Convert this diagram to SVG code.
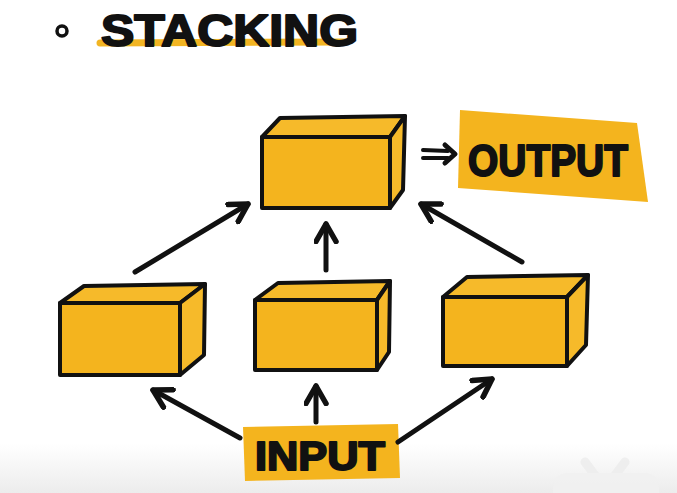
<svg xmlns="http://www.w3.org/2000/svg" width="677" height="493" viewBox="0 0 677 493">
<defs>
<style>
.face{fill:#F4B41E;stroke:#111;stroke-width:4;stroke-linejoin:round}
.side{fill:#F6BA2A;stroke:#111;stroke-width:4;stroke-linejoin:round}
.arr{stroke:#111;stroke-width:5;stroke-linecap:round;fill:none}
.lbl{font-family:"Liberation Sans","DejaVu Sans",sans-serif;font-weight:bold;fill:#111;stroke:#111;stroke-width:2;stroke-linejoin:round}
</style>
<marker id="ah" viewBox="0 0 10 10" refX="8" refY="5" markerWidth="5" markerHeight="5" orient="auto" markerUnits="strokeWidth">
<path d="M1,1 L8,5 L1,9" fill="none" stroke="#111" stroke-width="2.2" stroke-linecap="round" stroke-linejoin="round"/>
</marker>
<linearGradient id="bg" x1="0" y1="0" x2="0" y2="1">
<stop offset="0.9" stop-color="#ffffff"/>
<stop offset="1" stop-color="#ececec"/>
</linearGradient>
</defs>
<rect width="677" height="493" fill="url(#bg)"/>

<g id="title">
<circle cx="62" cy="31" r="5" fill="none" stroke="#111" stroke-width="3.5"/>
<path d="M100,43 L345,42" stroke="#F2B523" stroke-width="7" stroke-linecap="round" fill="none"/>
<text x="101" y="46" class="lbl" font-size="44" textLength="257" lengthAdjust="spacingAndGlyphs">STACKING</text>
</g>

<g id="top-model">
<polygon class="face" points="262,137 390,137 390,208 262,208"/>
<polygon class="side" points="262,137 280,118 405,116 390,137"/>
<polygon class="side" points="390,137 405,116 403,190 390,208"/>
</g>

<g id="output">
<polygon points="460,110 637,123 648,202 458,188" fill="#F4B41E"/>
<text x="468" y="176" class="lbl" font-size="44" textLength="160" lengthAdjust="spacingAndGlyphs">OUTPUT</text>
</g>

<g id="model-left">
<polygon class="face" points="60,303 180,303 180,375 60,375"/>
<polygon class="side" points="60,303 84,286 205,284 180,303"/>
<polygon class="side" points="180,303 205,284 204,355 180,375"/>
</g>

<g id="model-middle">
<polygon class="face" points="255,300 377,300 377,370 255,370"/>
<polygon class="side" points="255,300 278,283 390,281 377,300"/>
<polygon class="side" points="377,300 390,281 389,352 377,370"/>
</g>

<g id="model-right">
<polygon class="face" points="443,297 567,297 567,366 443,366"/>
<polygon class="side" points="443,297 467,277 588,275 567,297"/>
<polygon class="side" points="567,297 588,275 586,345 567,366"/>
</g>

<g id="input">
<polygon points="243,427 398,424 400,478 245,481" fill="#F4B41E"/>
<text x="255" y="470" class="lbl" font-size="40" textLength="130" lengthAdjust="spacingAndGlyphs">INPUT</text>
</g>

<g id="connectors">
<line class="arr" x1="135" y1="272" x2="248" y2="204" marker-end="url(#ah)"/>
<line class="arr" x1="326" y1="270" x2="326" y2="224" marker-end="url(#ah)"/>
<line class="arr" x1="522" y1="262" x2="421" y2="204" marker-end="url(#ah)"/>
<line class="arr" x1="240" y1="438" x2="153" y2="390" marker-end="url(#ah)"/>
<line class="arr" x1="316" y1="422" x2="316" y2="386" marker-end="url(#ah)"/>
<line class="arr" x1="398" y1="442" x2="492" y2="379" marker-end="url(#ah)"/>
<path d="M423,150 L448,151 M423,158 L448,158" stroke="#111" stroke-width="4" stroke-linecap="round" fill="none"/>
<path d="M445,145 L455,154 L445,163" stroke="#111" stroke-width="5" stroke-linecap="round" stroke-linejoin="round" fill="none"/>
</g>

<g id="watermark" opacity="0.9">
<line x1="585" y1="462" x2="597" y2="478" stroke="#eeeeee" stroke-width="9" stroke-linecap="round"/>
<line x1="625" y1="462" x2="613" y2="478" stroke="#eeeeee" stroke-width="9" stroke-linecap="round"/>
<rect x="553" y="473" width="106" height="40" rx="14" fill="#f1f1f1"/>
</g>
</svg>
